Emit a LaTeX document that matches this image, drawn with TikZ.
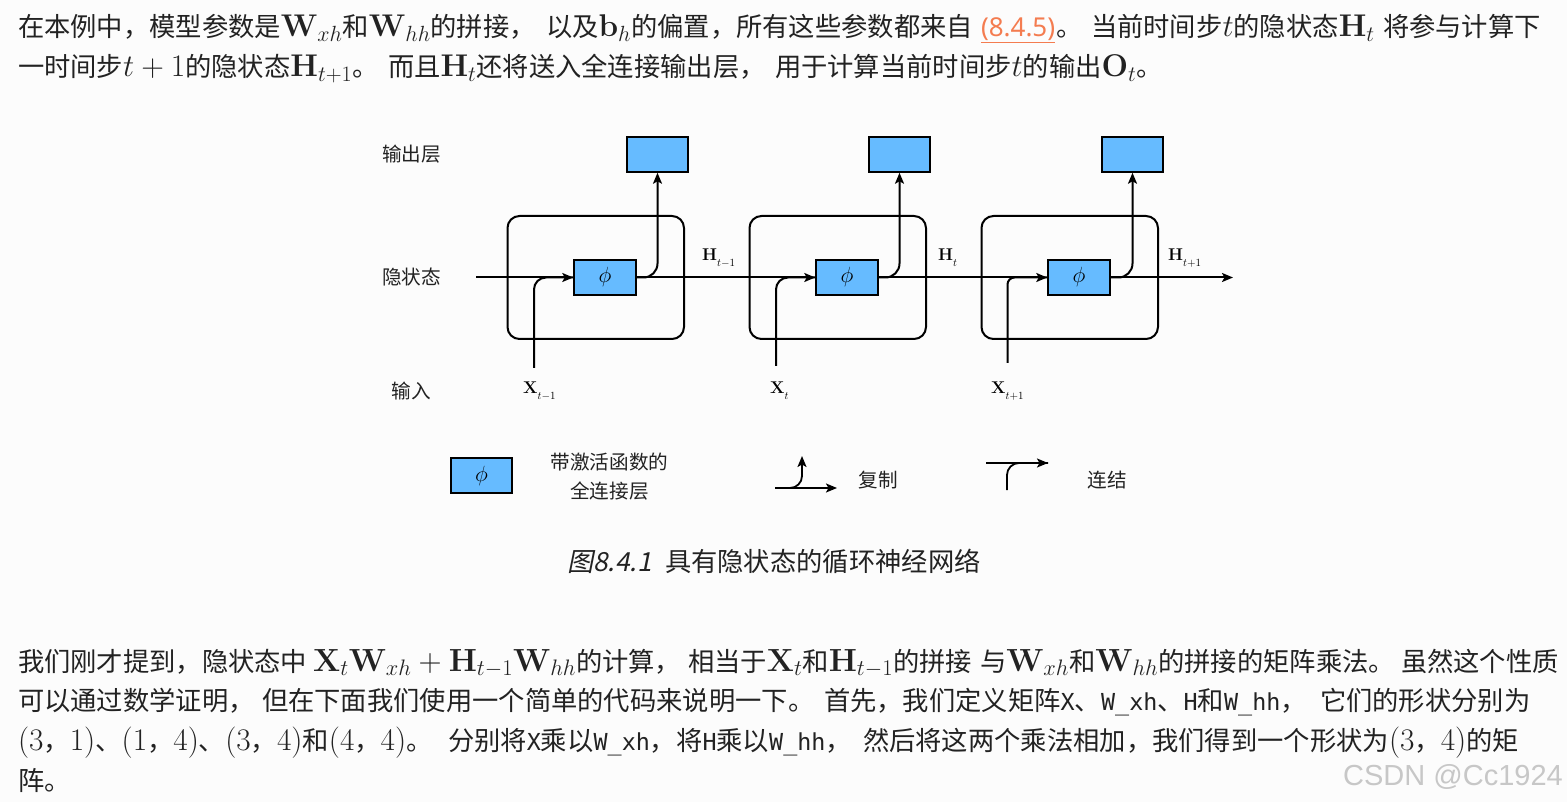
\RequirePackage{fix-cm}
\documentclass[tikz,border=0pt]{standalone}
\usepackage[no-math]{fontspec}
\setmainfont{Noto Sans CJK SC}
\newfontfamily\cjkit[FakeSlant=0.2]{Noto Sans CJK SC}
\newfontfamily\linkfont{Noto Sans}
\newfontfamily\wmfont{Liberation Sans}
\newfontfamily\codefont{DejaVu Sans Mono}
\usetikzlibrary{arrows.meta}
\definecolor{pagebg}{HTML}{FCFCFC}
\definecolor{inktext}{HTML}{222222}
\definecolor{boxblue}{HTML}{66BBFF}
\definecolor{linkorange}{HTML}{F47C50}
\newcommand{\cd}[1]{{\fontsize{23.4}{30}\selectfont\codefont #1}}
\newcommand{\mth}[1]{{\fontsize{31.4}{39}\selectfont$#1$}}
\newcommand{\mtb}[1]{{\fontsize{32}{39}\selectfont$#1$}}
\newcommand{\bb}[2]{\mth{\mathbf{#1}_{#2}}}
\newcommand{\bc}[2]{\mtb{\mathbf{#1}_{#2}}}
\newcommand{\lbl}[2]{$\mathbf{#1}$\raisebox{-6pt}{\fontsize{11}{11}\selectfont$#2$}}
\tikzset{
  x=1pt,y=-1pt,
  para/.style={inner sep=0,outer sep=0,anchor=base west,text=inktext,font=\fontsize{26.3}{39}\selectfont},
  side/.style={inner sep=0,anchor=center,text=inktext,font=\fontsize{19.6}{24}\selectfont},
  sym/.style={inner sep=0,anchor=base west,text=black,font=\fontsize{17}{20}\selectfont},
  cell/.style={draw=black,line width=2pt,rounded corners=12pt,inner sep=0},
  fc/.style={draw=black,line width=2pt,fill=boxblue,minimum width=61.5pt,minimum height=34.5pt,inner sep=0,font=\fontsize{22}{24}\selectfont},
  conn/.style={draw=black,line width=2pt},
  tip/.style={conn,-{Stealth[length=11pt,width=9pt,inset=2.5pt]}},
}
\begin{document}
\begin{tikzpicture}
\fill[pagebg] (0,0) rectangle (1567,802);
\useasboundingbox (0,0) rectangle (1567,802);
% top paragraph
\node[para] (a1) at (18,37) {在本例中，模型参数是\bb{W}{xh}和\bb{W}{hh}的拼接，};
\node[para] (a2) at (546,37) {以及\bb{b}{h}的偏置，所有这些参数都来自};
\node[para,text=linkorange] (a3) at (981,37) {\underline{\fontsize{26}{30}\linkfont\selectfont (8.4.5)}};
\node[para] (a4) at (1056,37) {。};
\node[para] (a5) at (1091,37) {当前时间步\mth{t}的隐状态\bb{H}{t}};
\node[para] (a6) at (1383,37) {将参与计算下};
\node[para] (b1) at (18,77) {一时间步\mth{t+1}的隐状态\bb{H}{t+1}。};
\node[para] (b2) at (388,77) {而且\bb{H}{t}还将送入全连接输出层，};
\node[para] (b3) at (775,77) {用于计算当前时间步\mth{t}的输出\bb{O}{t}。};
% bottom paragraph
\node[para] (c1) at (18,671) {我们刚才提到，隐状态中 \mtb{\mathbf{X}_{t}\mathbf{W}_{xh}+\mathbf{H}_{t-1}\mathbf{W}_{hh}}的计算，};
\node[para] (c2) at (688,671) {相当于\bc{X}{t}和\bc{H}{t-1}的拼接};
\node[para] (c3) at (980,671) {与\bc{W}{xh}和\bc{W}{hh}的拼接的矩阵乘法。};
\node[para] (c4) at (1401,671) {虽然这个性质};
\node[para] (d1) at (18,710) {可以通过数学证明，};
\node[para] (d2) at (262,710) {但在下面我们使用一个简单的代码来说明一下。};
\node[para] (d3) at (824,710) {首先，我们定义矩阵\cd{X}、\cd{W\_xh}、\cd{H}和\cd{W\_hh}，};
\node[para] (d4) at (1320,710) {它们的形状分别为};
\node[para] (e1) at (18,750) {\mth{(3}，\mth{1)}、\mth{(1}，\mth{4)}、\mth{(3}，\mth{4)}和\mth{(4}，\mth{4)}。};
\node[para] (e2) at (448,750) {分别将\cd{X}乘以\cd{W\_xh}，将\cd{H}乘以\cd{W\_hh}，};
\node[para] (e3) at (863,750) {然后将这两个乘法相加，我们得到一个形状为\mth{(3}，\mth{4)}的矩};
\node[para] (f1) at (18,790) {阵。};
% caption
\node[para] (k1) at (567,571) {\cjkit 图8.4.1};
\node[para] (k2) at (665,571) {具有隐状态的循环神经网络};
% watermark
\node[inner sep=0,anchor=base east,text=black!22,font=\fontsize{29}{30}\wmfont\selectfont] (wm) at (1563,785) {CSDN @Cc1924};
% row labels
\node[side] (r1) at (411.5,154) {输出层};
\node[side] (r2) at (411.5,277) {隐状态};
\node[side] (r3) at (411.5,391) {输入};
% cells
\draw[cell] (507.5,216) rectangle (684,339);
\draw[cell] (749.5,216) rectangle (926,339);
\draw[cell] (981.5,216) rectangle (1158,339);
% layers
\node[fc] (p1) at (605,277.5) {$\phi$};
\node[fc] (p2) at (847,277.5) {$\phi$};
\node[fc] (p3) at (1079,277.5) {$\phi$};
\node[fc] (o1) at (657.5,154.5) {};
\node[fc] (o2) at (899.5,154.5) {};
\node[fc] (o3) at (1132.5,154.5) {};
% free ends
\coordinate (in1) at (476,277.5);
\coordinate (out3) at (1233,277.5);
\coordinate (x1) at (534,368);
\coordinate (x2) at (776,366);
\coordinate (x3) at (1007.5,363);
% connectors
\draw[tip] (in1) -- (p1.west);
\draw[tip] (p1.east) -- (p2.west);
\draw[tip] (p2.east) -- (p3.west);
\draw[tip] (p3.east) -- (out3);
\draw[conn,rounded corners=12pt] (x1) |- (p1.west);
\draw[conn,rounded corners=12pt] (x2) |- (p2.west);
\draw[conn,rounded corners=7pt] (x3) |- (p3.west);
\draw[tip,rounded corners=14pt] (p1.east) -| (o1.south);
\draw[tip,rounded corners=14pt] (p2.east) -| (o2.south);
\draw[tip,rounded corners=14pt] (p3.east) -| (o3.south);
% symbols
\node[sym] (h1) at (702,261) {\lbl{H}{t{-}1}};
\node[sym] (h2) at (938,261) {\lbl{H}{t}};
\node[sym] (h3) at (1168,261) {\lbl{H}{t{+}1}};
\node[sym] (s1) at (523,393) {\lbl{X}{t{-}1}};
\node[sym] (s2) at (770,393) {\lbl{X}{t}};
\node[sym] (s3) at (991,393) {\lbl{X}{t{+}1}};
% legend
\node[fc] (lg) at (481.5,475.5) {$\phi$};
\node[side] (l1) at (609.5,462) {带激活函数的};
\node[side] (l2) at (609.5,491) {全连接层};
\coordinate (ca) at (775,488);
\coordinate (cb) at (837,488);
\coordinate (cc) at (802,456);
\draw[tip,line width=1.8pt] (ca) -- (cb);
\draw[tip,line width=1.8pt,rounded corners=12pt] (ca) -| (cc);
\node[side] (l3) at (878,480) {复制};
\coordinate (ja) at (986,463);
\coordinate (jb) at (1048,463);
\coordinate (jc) at (1007,490);
\draw[tip,line width=1.8pt] (ja) -- (jb);
\draw[conn,line width=1.8pt,rounded corners=12pt] (jc) |- (jb);
\node[side] (l4) at (1107,480) {连结};
\end{tikzpicture}
\end{document}
